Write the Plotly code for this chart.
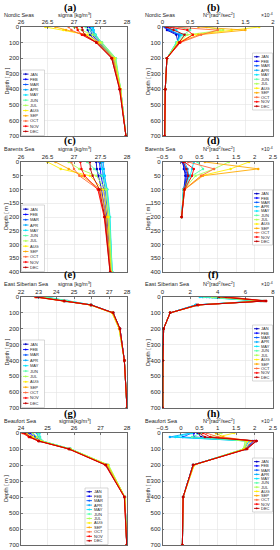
import plotly.graph_objects as go

months = ["JAN", "FEB", "MAR", "APR", "MAY", "JUN", "JUL", "AUG", "SEP", "OCT", "NOV", "DEC"]
month_colors = ["#0000BF", "#0000FF", "#0055FF", "#00AAFF", "#00E5FF", "#55FFAA",
                "#AAFF55", "#FFEE00", "#FFAA00", "#FF6A3A", "#FF0000", "#BF0000"]

# ---------------- (a) Nordic Seas sigma ----------------
nordic_depth = [0, 20, 50, 100, 200, 400, 700]
nordic_sigma = [
    [27.25, 27.26, 27.30, 27.45, 27.72, 27.87, 27.98],
    [27.30, 27.31, 27.34, 27.47, 27.73, 27.87, 27.98],
    [27.34, 27.35, 27.38, 27.49, 27.74, 27.88, 27.98],
    [27.36, 27.37, 27.40, 27.50, 27.76, 27.88, 27.98],
    [27.33, 27.36, 27.41, 27.52, 27.78, 27.88, 27.98],
    [27.22, 27.30, 27.40, 27.53, 27.79, 27.88, 27.98],
    [27.00, 27.15, 27.35, 27.52, 27.78, 27.88, 27.98],
    [26.46, 26.80, 27.25, 27.48, 27.76, 27.88, 27.98],
    [26.65, 26.85, 27.20, 27.45, 27.74, 27.87, 27.98],
    [26.90, 26.95, 27.15, 27.43, 27.72, 27.87, 27.98],
    [27.05, 27.07, 27.15, 27.42, 27.71, 27.86, 27.98],
    [27.15, 27.16, 27.20, 27.42, 27.71, 27.86, 27.98],
]
# ---------------- (b) Nordic Seas N2 (x1e-4) ----------------
nordic_n2 = [
    [0.05, 0.08, 0.25, 0.28, 0.08, 0.05, 0.04],
    [0.04, 0.10, 0.30, 0.28, 0.08, 0.05, 0.04],
    [0.05, 0.12, 0.30, 0.27, 0.08, 0.05, 0.04],
    [0.08, 0.15, 0.32, 0.26, 0.08, 0.05, 0.04],
    [0.15, 0.25, 0.35, 0.25, 0.08, 0.05, 0.04],
    [0.30, 0.50, 0.38, 0.25, 0.08, 0.05, 0.04],
    [0.80, 1.10, 0.45, 0.27, 0.08, 0.05, 0.04],
    [1.75, 1.25, 0.55, 0.28, 0.08, 0.05, 0.04],
    [0.65, 1.50, 0.65, 0.30, 0.08, 0.05, 0.04],
    [0.20, 1.00, 0.70, 0.32, 0.08, 0.05, 0.04],
    [0.10, 0.45, 0.55, 0.32, 0.08, 0.05, 0.04],
    [0.07, 0.20, 0.40, 0.30, 0.08, 0.05, 0.04],
]
# ---------------- (c) Barents Sea sigma ----------------
barents_depth = [0, 25, 50, 100, 200, 400]
barents_sigma = [
    [27.42, 27.43, 27.46, 27.52, 27.60, 27.69],
    [27.48, 27.49, 27.51, 27.56, 27.62, 27.70],
    [27.52, 27.53, 27.55, 27.59, 27.64, 27.71],
    [27.55, 27.56, 27.58, 27.62, 27.67, 27.72],
    [27.50, 27.53, 27.57, 27.63, 27.68, 27.72],
    [27.25, 27.38, 27.52, 27.62, 27.67, 27.72],
    [26.90, 27.10, 27.42, 27.60, 27.66, 27.71],
    [26.50, 26.75, 27.30, 27.55, 27.64, 27.70],
    [26.65, 26.90, 27.15, 27.50, 27.61, 27.69],
    [26.95, 27.00, 27.10, 27.46, 27.58, 27.69],
    [27.12, 27.14, 27.20, 27.45, 27.57, 27.68],
    [27.30, 27.31, 27.35, 27.48, 27.58, 27.68],
]
# ---------------- (d) Barents Sea N2 (x1e-4) ----------------
barents_n2_depth = [0, 25, 50, 100, 200]
barents_n2 = [
    [0.05, 0.08, 0.12, 0.08, 0.02],
    [0.04, 0.10, 0.15, 0.08, 0.02],
    [0.06, 0.12, 0.18, 0.07, 0.02],
    [0.10, 0.18, 0.22, 0.07, 0.02],
    [0.35, 0.30, 0.25, 0.07, 0.02],
    [0.45, 0.60, 0.30, 0.07, 0.02],
    [1.30, 0.90, 0.40, 0.08, 0.02],
    [1.85, 1.35, 0.55, 0.09, 0.02],
    [0.65, 2.10, 0.60, 0.10, 0.02],
    [0.20, 0.90, 0.55, 0.10, 0.02],
    [0.10, 0.35, 0.30, 0.10, 0.02],
    [0.06, 0.15, 0.20, 0.09, 0.02],
]
# ---------------- (e) East Siberian Sea sigma ----------------
esib_depth = [0, 25, 50, 100, 200, 400, 700]
esib_sigma = [
    [22.95, 24.45, 25.95, 27.20, 27.60, 27.85, 28.00],
    [23.05, 24.50, 25.95, 27.20, 27.60, 27.85, 28.00],
    [23.15, 24.55, 25.97, 27.20, 27.60, 27.85, 28.00],
    [23.30, 24.60, 26.00, 27.22, 27.60, 27.85, 28.00],
    [23.45, 24.65, 26.00, 27.22, 27.58, 27.85, 28.00],
    [23.35, 24.60, 25.98, 27.20, 27.55, 27.85, 28.00],
    [23.10, 24.50, 25.95, 27.15, 27.55, 27.85, 28.00],
    [22.90, 24.40, 25.90, 27.15, 27.55, 27.85, 28.00],
    [22.80, 24.40, 25.92, 27.18, 27.57, 27.85, 28.00],
    [22.80, 24.42, 25.95, 27.20, 27.60, 27.85, 28.00],
    [22.85, 24.45, 25.97, 27.22, 27.60, 27.85, 28.00],
    [22.90, 24.45, 25.97, 27.22, 27.60, 27.85, 28.00],
]
# ---------------- (f) East Siberian Sea N2 (x1e-4) ----------------
esib_n2 = [
    [3.6, 7.4, 2.5, 0.55, 0.08, 0.03, 0.02],
    [3.4, 7.3, 2.5, 0.55, 0.08, 0.03, 0.02],
    [3.2, 7.2, 2.4, 0.55, 0.08, 0.03, 0.02],
    [2.9, 7.1, 2.4, 0.55, 0.08, 0.03, 0.02],
    [2.7, 7.0, 2.4, 0.55, 0.08, 0.03, 0.02],
    [3.0, 7.1, 2.5, 0.55, 0.08, 0.03, 0.02],
    [3.6, 7.2, 2.6, 0.55, 0.08, 0.03, 0.02],
    [4.2, 7.3, 2.6, 0.55, 0.08, 0.03, 0.02],
    [4.7, 7.4, 2.6, 0.55, 0.08, 0.03, 0.02],
    [4.8, 7.5, 2.6, 0.55, 0.08, 0.03, 0.02],
    [4.6, 7.5, 2.6, 0.55, 0.08, 0.03, 0.02],
    [4.1, 7.5, 2.5, 0.55, 0.08, 0.03, 0.02],
]
# ---------------- (g) Beaufort Sea sigma ----------------
beau_depth = [0, 25, 50, 100, 200, 400, 700]
beau_sigma = [
    [24.25, 24.45, 24.70, 25.85, 27.22, 27.92, 27.99],
    [24.35, 24.50, 24.72, 25.85, 27.22, 27.92, 27.99],
    [24.45, 24.55, 24.74, 25.86, 27.23, 27.92, 27.99],
    [24.60, 24.65, 24.78, 25.87, 27.25, 27.92, 27.99],
    [24.70, 24.72, 24.80, 25.88, 27.27, 27.92, 27.99],
    [24.65, 24.70, 24.80, 25.88, 27.30, 27.92, 27.99],
    [24.45, 24.60, 24.78, 25.87, 27.30, 27.92, 27.99],
    [24.20, 24.45, 24.72, 25.85, 27.28, 27.92, 27.99],
    [24.08, 24.35, 24.68, 25.82, 27.25, 27.92, 27.99],
    [24.04, 24.30, 24.65, 25.80, 27.20, 27.90, 27.99],
    [24.08, 24.30, 24.65, 25.80, 27.18, 27.90, 27.99],
    [24.15, 24.35, 24.67, 25.82, 27.20, 27.90, 27.99],
]
# ---------------- (h) Beaufort Sea N2 (x1e-4) ----------------
beau_n2 = [
    [0.45, 0.55, 2.05, 1.75, 0.33, 0.06, 0.04],
    [0.35, 0.35, 2.00, 1.75, 0.33, 0.06, 0.04],
    [0.30, 0.05, 1.95, 1.75, 0.33, 0.06, 0.04],
    [0.25, -0.30, 1.85, 1.72, 0.33, 0.06, 0.04],
    [0.30, -0.15, 1.80, 1.72, 0.33, 0.06, 0.04],
    [0.55, 0.30, 1.75, 1.70, 0.34, 0.06, 0.04],
    [1.10, 0.80, 1.75, 1.70, 0.36, 0.06, 0.04],
    [1.45, 1.00, 1.80, 1.72, 0.36, 0.06, 0.04],
    [0.95, 1.15, 1.90, 1.75, 0.35, 0.06, 0.04],
    [0.70, 1.00, 2.00, 1.78, 0.34, 0.06, 0.04],
    [0.60, 0.80, 2.05, 1.80, 0.33, 0.06, 0.04],
    [0.50, 0.65, 2.05, 1.78, 0.33, 0.06, 0.04],
]

sigma_label = "sigma [kg/m<sup>3</sup>]"
n2_label = "N<sup>2</sup>[rad<sup>2</sup>/sec<sup>2</sup>]"

panels = [
    dict(tag="(a)", region="Nordic Seas", xlabel=sigma_label, depth=nordic_depth, vals=nordic_sigma,
         xr=[26, 28], xt=[26, 26.5, 27, 27.5, 28], yr=700, yt=list(range(0, 701, 100)), exp=False),
    dict(tag="(b)", region="Nordic Seas", xlabel=n2_label, depth=nordic_depth, vals=nordic_n2,
         xr=[0, 2], xt=[0, 0.5, 1, 1.5, 2], yr=700, yt=list(range(0, 701, 100)), exp=True),
    dict(tag="(c)", region="Barents Sea", xlabel=sigma_label, depth=barents_depth, vals=barents_sigma,
         xr=[26, 28], xt=[26, 26.5, 27, 27.5, 28], yr=400, yt=list(range(0, 401, 50)), exp=False),
    dict(tag="(d)", region="Barents Sea", xlabel=n2_label, depth=barents_n2_depth, vals=barents_n2,
         xr=[-0.5, 2.5], xt=[-0.5, 0, 0.5, 1, 1.5, 2, 2.5], yr=400, yt=list(range(0, 401, 50)), exp=True),
    dict(tag="(e)", region="East Siberian Sea", xlabel=sigma_label, depth=esib_depth, vals=esib_sigma,
         xr=[22, 28], xt=[22, 23, 24, 25, 26, 27, 28], yr=700, yt=list(range(0, 701, 100)), exp=False),
    dict(tag="(f)", region="East Siberian Sea", xlabel=n2_label, depth=esib_depth, vals=esib_n2,
         xr=[0, 8], xt=[0, 2, 4, 6, 8], yr=700, yt=list(range(0, 701, 100)), exp=True),
    dict(tag="(g)", region="Beaufort Sea", xlabel="sigma[kg/m<sup>3</sup>]", depth=beau_depth, vals=beau_sigma,
         xr=[24, 28], xt=[24, 25, 26, 27, 28], yr=700, yt=list(range(0, 701, 100)), exp=False),
    dict(tag="(h)", region="Beaufort Sea", xlabel=n2_label, depth=beau_depth, vals=beau_n2,
         xr=[-0.5, 2.5], xt=[-0.5, 0, 0.5, 1, 1.5, 2, 2.5], yr=700, yt=list(range(0, 701, 100)), exp=True),
]

W, H = 280, 550
def PX(x):
    return x / W
def PY(y):
    return 1 - y / H

# plot-area boxes in pixels: (left, right, top, bottom)
col_x = [(21, 127), (162.5, 273)]
row_y = [(27, 136), (162, 272), (297, 408), (433, 545)]
title_y = [8, 141, 275, 414]
# legend boxes in pixels: (x0, x1, y0, y1)
legend_boxes = [(21.5, 44.5, 70, 135.5), (252.5, 272.5, 53, 110),
                (21.5, 44.5, 205, 271.5), (252.5, 272.5, 190, 245),
                (21.5, 44.5, 340, 407.5), (252.5, 272.5, 325, 381),
                (85, 108, 488, 544.5), (252.5, 272.5, 458, 512)]

FONT = "Liberation Sans, Arial, sans-serif"
TXT = "#262626"

fig = go.Figure()
layout = dict(template="none", width=W, height=H, margin=dict(l=0, r=0, t=0, b=0, pad=0),
              paper_bgcolor="white", plot_bgcolor="white", showlegend=False,
              font=dict(family=FONT, size=6, color=TXT))
annotations = []
shapes = []

for i, p in enumerate(panels):
    r, c = i // 2, i % 2
    n = i + 1
    xl, xrt = col_x[c]
    yt_, yb = row_y[r]
    xa = "xaxis" if n == 1 else f"xaxis{n}"
    ya = "yaxis" if n == 1 else f"yaxis{n}"
    xref = "x" if n == 1 else f"x{n}"
    yref = "y" if n == 1 else f"y{n}"
    common = dict(showgrid=True, gridcolor="#e3e3e3", gridwidth=0.6, automargin=False,
                  showline=True, linecolor=TXT, linewidth=0.7, mirror=True, zeroline=False,
                  ticks="inside", ticklen=1.5, tickcolor=TXT, tickwidth=0.6,
                  tickfont=dict(size=6, color=TXT, family=FONT))
    layout[xa] = dict(domain=[PX(xl), PX(xrt)], range=p["xr"], tickvals=p["xt"], side="top",
                      anchor=yref, **common)
    layout[ya] = dict(domain=[PY(yb), PY(yt_)], range=[p["yr"], 0], tickvals=p["yt"],
                      anchor=xref, **common)
    for m in range(12):
        fig.add_trace(go.Scatter(x=p["vals"][m], y=p["depth"], mode="lines+markers",
                                 name=months[m], xaxis=xref, yaxis=yref,
                                 line=dict(color=month_colors[m], width=0.9),
                                 marker=dict(color=month_colors[m], size=2.5, symbol="circle")))
    cx = (xl + xrt) / 2
    annotations.append(dict(text=f"<b>{p['tag']}</b>", x=PX(cx - 4), y=PY(title_y[r]), xref="paper", yref="paper",
                            showarrow=False, xanchor="center", yanchor="middle", borderpad=0,
                            font=dict(family="Liberation Serif, Times New Roman, serif", size=10.5, color="black")))
    annotations.append(dict(text=p["region"], x=PX(xl - 18.5), y=PY(yt_ - 12.5), xref="paper", yref="paper",
                            showarrow=False, xanchor="left", yanchor="middle", borderpad=0,
                            font=dict(size=5.5, color=TXT)))
    annotations.append(dict(text=p["xlabel"], x=PX(cx + 1), y=PY(yt_ - 12.5), xref="paper", yref="paper",
                            showarrow=False, xanchor="center", yanchor="middle", borderpad=0,
                            font=dict(size=5.5, color=TXT)))
    if p["exp"]:
        annotations.append(dict(text="\u00d710<sup>-4</sup>", x=PX(xrt + 1), y=PY(yt_ - 12.5), xref="paper", yref="paper",
                                showarrow=False, xanchor="right", yanchor="middle", borderpad=0,
                                font=dict(size=5, color=TXT)))
    annotations.append(dict(text="Depth [ m ]", x=PX(xl - 15), y=PY((yt_ + yb) / 2), xref="paper", yref="paper",
                            showarrow=False, textangle=-90, xanchor="center", yanchor="middle", borderpad=0,
                            font=dict(size=5.5, color=TXT)))
    lx0, lx1, ly0, ly1 = legend_boxes[i]
    shapes.append(dict(type="rect", xref="paper", yref="paper", x0=PX(lx0), x1=PX(lx1), y0=PY(ly1), y1=PY(ly0),
                       line=dict(color="#bdbdbd", width=0.6), fillcolor="white", layer="above"))
    step = (ly1 - ly0 - 3) / 12
    for m in range(12):
        yy = ly0 + 1.5 + (m + 0.5) * step
        shapes.append(dict(type="line", xref="paper", yref="paper", x0=PX(lx0 + 1.5), x1=PX(lx0 + 7),
                           y0=PY(yy), y1=PY(yy), line=dict(color=month_colors[m], width=0.9), layer="above"))
        r_ = 0.7
        shapes.append(dict(type="circle", xref="paper", yref="paper", x0=PX(lx0 + 4.25 - r_), x1=PX(lx0 + 4.25 + r_),
                           y0=PY(yy + r_), y1=PY(yy - r_), line=dict(color=month_colors[m], width=0.5),
                           fillcolor=month_colors[m], layer="above"))
        annotations.append(dict(text=months[m], x=PX(lx0 + 7.8), y=PY(yy), xref="paper", yref="paper",
                                showarrow=False, xanchor="left", yanchor="middle", borderpad=0,
                                font=dict(size=4, color=TXT)))

layout["annotations"] = annotations
layout["shapes"] = shapes
fig.update_layout(**layout)
fig.write_html("out.html", config={"displayModeBar": False, "staticPlot": True},
               post_script="document.body.style.margin='0';document.body.style.overflow='hidden';")
